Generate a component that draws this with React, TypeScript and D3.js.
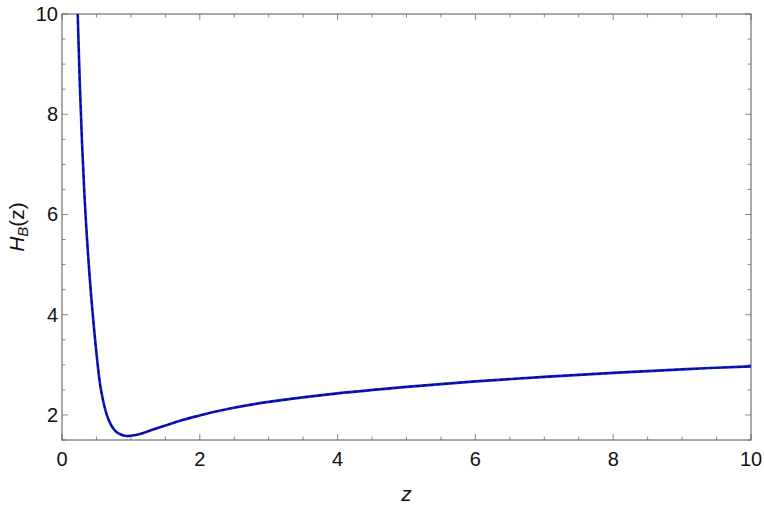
import React from "react";
import { scaleLinear, line, curveCatmullRom, range } from "d3";

// values
const zValues = [0.228, 0.26, 0.29, 0.32, 0.35, 0.4, 0.45, 0.518, 0.566, 0.65, 0.72, 0.79, 0.87, 0.95, 1.05, 1.13, 1.3, 1.5, 1.75, 2, 2.2, 2.44, 3, 4, 5, 6, 7, 8, 9, 10];
const hValues = [10, 8.55, 7.45, 6.55, 5.8, 4.78, 3.95, 3.0, 2.5, 2.0, 1.78, 1.66, 1.6, 1.58, 1.595, 1.62, 1.7, 1.79, 1.9, 1.99, 2.06, 2.13, 2.26, 2.43, 2.56, 2.67, 2.76, 2.84, 2.91, 2.97];

const xMajor = [0, 2, 4, 6, 8, 10];
const yMajor = [2, 4, 6, 8, 10];

const width = 764;
const height = 508;
const margin = { left: 62, right: 13, top: 14, bottom: 68 };

const App = () => {
  const x = scaleLinear().domain([0, 10]).range([margin.left, width - margin.right]);
  const y = scaleLinear().domain([1.5, 10]).range([height - margin.bottom, margin.top]);

  const pts = zValues.map((z, i) => ({ z, h: hValues[i] }));
  const path = line<{ z: number; h: number }>()
    .x(d => x(d.z))
    .y(d => y(d.h))
    .curve(curveCatmullRom.alpha(0.5))(pts) || "";

  const xMinor = range(0, 10.001, 0.5).filter(v => !xMajor.includes(v));
  const yMinor = range(1.5, 10.001, 0.5).filter(v => !yMajor.includes(v));

  const x0 = margin.left;
  const x1 = width - margin.right;
  const y0 = height - margin.bottom;
  const y1 = margin.top;
  const tickColor = "#8a8a8a";
  const font = "'Liberation Sans', Arial, sans-serif";

  return (
    <div style={{ position: "absolute", left: 0, top: 0 }}>
      <svg width={width} height={height} style={{ display: "block", background: "#fff" }}>
        <defs>
          <clipPath id="plotClip">
            <rect x={x0} y={y1} width={x1 - x0} height={y0 - y1} />
          </clipPath>
        </defs>
        {/* ticks */}
        <g stroke={tickColor} strokeWidth={1}>
          {xMajor.map(v => (
            <g key={"xm" + v}>
              <line x1={x(v)} x2={x(v)} y1={y0} y2={y0 - 6} />
              <line x1={x(v)} x2={x(v)} y1={y1} y2={y1 + 6} />
            </g>
          ))}
          {xMinor.map(v => (
            <g key={"xn" + v}>
              <line x1={x(v)} x2={x(v)} y1={y0} y2={y0 - 3.5} />
              <line x1={x(v)} x2={x(v)} y1={y1} y2={y1 + 3.5} />
            </g>
          ))}
          {yMajor.map(v => (
            <g key={"ym" + v}>
              <line x1={x0} x2={x0 + 6} y1={y(v)} y2={y(v)} />
              <line x1={x1} x2={x1 - 6} y1={y(v)} y2={y(v)} />
            </g>
          ))}
          {yMinor.map(v => (
            <g key={"yn" + v}>
              <line x1={x0} x2={x0 + 3.5} y1={y(v)} y2={y(v)} />
              <line x1={x1} x2={x1 - 3.5} y1={y(v)} y2={y(v)} />
            </g>
          ))}
        </g>
        {/* frame */}
        <rect x={x0} y={y1} width={x1 - x0} height={y0 - y1} fill="none" stroke="#555" strokeWidth={1} />
        {/* curves */}
        <g clipPath="url(#plotClip)">
          <path d={path} fill="none" stroke="#0a14e6" strokeWidth={2.6} />
          <path d={path} fill="none" stroke="#111" strokeWidth={1.4} strokeDasharray="3 4" />
        </g>
        {/* tick labels */}
        <g fontFamily={font} fontSize={20} fill="#111">
          {xMajor.map(v => (
            <text key={"xl" + v} x={x(v)} y={466} textAnchor="middle">{v}</text>
          ))}
          {yMajor.map(v => (
            <text key={"yl" + v} x={58} y={y(v)} dy="0.35em" textAnchor="end">{v}</text>
          ))}
        </g>
        {/* axis labels */}
        <text x={(x0 + x1) / 2} y={501} textAnchor="middle" fontFamily={font} fontSize={21} fontStyle="italic" fill="#111">z</text>
        <text transform={`translate(24, ${(y0 + y1) / 2}) rotate(-90)`} textAnchor="middle" fontFamily={font} fontSize={21} fill="#111">
          <tspan fontStyle="italic">H</tspan>
          <tspan fontStyle="italic" fontSize={15} dy={4}>B</tspan>
          <tspan dy={-4}>(z)</tspan>
        </text>
      </svg>
    </div>
  );
};

export default App;
